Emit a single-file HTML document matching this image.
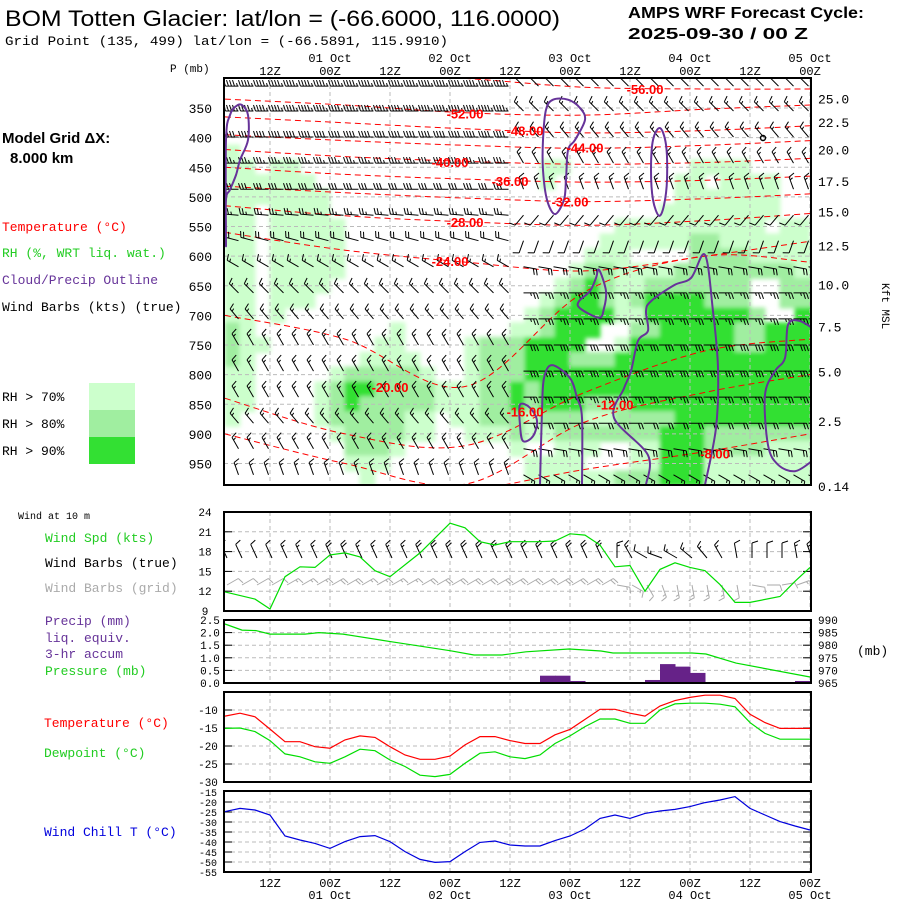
<!DOCTYPE html>
<html><head><meta charset="utf-8"><title>BOM Totten Glacier meteogram</title>
<style>
html,body{margin:0;padding:0;background:#fff;}
svg{display:block;}
text{font-family:"Liberation Mono","DejaVu Sans Mono",monospace;}
.sans{font-family:"Liberation Sans",sans-serif;}
</style></head>
<body>
<svg id="chart" width="900" height="900" viewBox="0 0 900 900" xmlns="http://www.w3.org/2000/svg">
<defs>
<clipPath id="clipMain"><rect x="224" y="78" width="587" height="407"/></clipPath>
<clipPath id="clipWind"><rect x="224" y="512" width="587" height="99"/></clipPath>
<filter id="soft" x="-5%" y="-5%" width="110%" height="110%"><feGaussianBlur stdDeviation="2.2"/></filter>
</defs>
<text class="sans" x="5" y="26" font-size="22" textLength="555" lengthAdjust="spacingAndGlyphs">BOM Totten Glacier:  lat/lon = (-66.6000, 116.0000)</text>
<text x="5" y="45" font-size="13" textLength="443" lengthAdjust="spacingAndGlyphs">Grid Point (135, 499) lat/lon = (-66.5891, 115.9910)</text>
<text class="sans" x="628" y="18" font-size="16" font-weight="bold" textLength="236" lengthAdjust="spacingAndGlyphs">AMPS WRF Forecast Cycle:</text>
<text class="sans" x="628" y="39" font-size="16" font-weight="bold" textLength="180" lengthAdjust="spacingAndGlyphs">2025-09-30 / 00  Z</text>

<text class="sans" x="2" y="143" font-size="15" font-weight="bold">Model Grid ΔX:</text>
<text class="sans" x="10" y="163" font-size="15" font-weight="bold">8.000 km</text>
<text x="2" y="231" font-size="13" fill="#ff0000">Temperature (°C)</text>
<text x="2" y="257" font-size="13" fill="#22cc22">RH (%, WRT liq. wat.)</text>
<text x="2" y="284" font-size="13" fill="#663399">Cloud/Precip Outline</text>
<text x="2" y="311" font-size="13" fill="#000">Wind Barbs (kts) (true)</text>
<text x="2" y="401" font-size="13">RH &gt; 70%</text>
<text x="2" y="428" font-size="13">RH &gt; 80%</text>
<text x="2" y="455" font-size="13">RH &gt; 90%</text>
<rect x="89" y="383" width="46" height="27" fill="#ccffcc"/>
<rect x="89" y="410" width="46" height="27" fill="#a0eea0"/>
<rect x="89" y="437" width="46" height="27" fill="#33e033"/>

<text x="18" y="519" font-size="10">Wind at 10 m</text>
<text x="45" y="542" font-size="13" fill="#22cc22">Wind Spd (kts)</text>
<text x="45" y="567" font-size="13" fill="#000">Wind Barbs (true)</text>
<text x="45" y="592" font-size="13" fill="#aaaaaa">Wind Barbs (grid)</text>
<text x="45" y="625" font-size="13" fill="#663399">Precip (mm)</text>
<text x="45" y="642" font-size="13" fill="#663399">liq. equiv.</text>
<text x="45" y="658" font-size="13" fill="#663399">3-hr accum</text>
<text x="45" y="675" font-size="13" fill="#22cc22">Pressure (mb)</text>
<text x="857" y="655" font-size="13">(mb)</text>
<text x="44" y="727" font-size="13" fill="#ff0000">Temperature (°C)</text>
<text x="44" y="757" font-size="13" fill="#22cc22">Dewpoint (°C)</text>
<text x="44" y="836" font-size="13" fill="#0000dd">Wind Chill T (°C)</text>
<text x="170" y="72" font-size="11">P (mb)</text>
<text x="0" y="0" font-size="11" transform="translate(882,283) rotate(90)">Kft MSL</text>
<g id="layers"></g>
</svg>
<script>
// ---------- DATA ----------
const tickHours = [9,21,33,45,57,69,81,93,105,117];
const tickLabels = ["12Z","00Z","12Z","00Z","12Z","00Z","12Z","00Z","12Z","00Z"];
const dateHours = [21,45,69,93,117];
const dateLabels = ["01 Oct","02 Oct","03 Oct","04 Oct","05 Oct"];
const presLevels = [350,400,450,500,550,600,650,700,750,800,850,900,950];
const kftLabels = ["25.0","22.5","20.0","17.5","15.0","12.5","10.0","7.5","5.0","2.5","0.14"];
const kftPres = [334,374,420,473,525,582,648,719,795,878,988];

// RH classes (0:<70,1:>70,2:>80,3:>90) per 25mb row (300..975), 40 cols of 3h
const rhRows = [
"0000000000000000000000000000000000000000",
"0000000000000000000000000000000000000000",
"0000000000000000000000000000000000000000",
"0000000000000000000000000000000000000000",
"0000000000000000000000000000000000000000",
"1000000000000000000000000000000000000000",
"1101100000000000000001100000000111100000",
"1111110000000000000001000000001101111000",
"1111111000000000000000000000001111111000",
"1101111000000000000000000000011111111000",
"1101111100000000000000000011111111110110",
"1101111100000000000000000111111221111110",
"1101111100000000000000001110000222211111",
"1101111100000000000000012211112222222211",
"1101111000000000000000123211222222200222",
"1101110000000000000001233212333322200222",
"1101000000000000000012333311333333320033",
"2100000000010000000112333002233333223333",
"2110000000110000122233330013333333223333",
"2100000001111000122233322233333333333333",
"1100000122222100122233333333333333333333",
"1100001233222211122323333333333333333333",
"1100001232222211122323332223333333333333",
"1000001222221101122212221122223333333333",
"0000000122221100111211222222233322222222",
"0000000022210000000100111001133322221111",
"0000000011100000000011110001133311111111",
"0000000001000000000011111122233311111111"
];
const rhClassValue = [50,75,85,95];

// wind barbs aloft: rows at these pressures; west (h<57) and east (h>=57) regimes
const barbPres = [313,355,399,443,487,531,574,618,662,706,750,794,838,882,925,969];
const barbDirW = [270,270,270,270,270,275,285,300,315,320,330,330,330,320,330,340];
const barbSpdW = [45,45,40,35,30,25,20,15,15,15,15,15,15,15,15,15];
const barbDirE = [315,315,320,330,340,220,200,100,90,90,90,90,90,90,100,120];
const barbSpdE = [15,15,15,15,15,10,10,20,25,25,30,30,25,20,20,15];

// isotherms (pressure at isoHours)
const isoHours = [0,24,48,72,96,117];
const isoTemps = [-56,-52,-48,-44,-40,-36,-32,-28,-24,-20,-16,-12,-8];
const isoPres = [
[285,290,300,315,318,318],
[335,345,358,362,352,345],
[365,375,385,392,388,380],
[395,405,413,418,413,405],
[420,432,440,445,442,435],
[450,462,470,475,472,465],
[482,493,502,508,503,495],
[515,532,542,548,540,528],
[560,590,610,625,600,575],
[700,740,820,660,600,610],
[840,900,920,830,760,740],
[900,950,985,880,830,800],
[995,995,995,960,930,900]
];
const isoLabelH = [84,48,60,72,45,57,69,48,45,33,60,78,98];
const isoLabelP = [318,359,388,417,441,473,508,542,608,821,862,850,933];

// cloud/precip outlines [hours],[pressures]
const cloudOutlines = [
 {h:[0.2,0.2,1,2.2,3,4.6,4.6,3.4,2.2,1,0.2],p:[581,505,488,463,438,404,362,345,347,362,404],closed:true},
 {h:[65.6,68.6,71,72,70,68.6,68.2,67.8,66,64.4,63.6,63.6,64.2],p:[336,336,350,370,404,421,471,505,529,505,455,404,353],closed:true},
 {h:[87,88.2,88.4,87.8,86.8,85.6,85.2,85.6],p:[384,412,471,514,532,505,455,404],closed:true},
 {h:[74.8,76.2,75.8,74.8,71,70.8,73,74.2],p:[623,659,688,704,688,676,659,637],closed:true},
 {h:[63,63.4,63.8,65.4,69,70.4,71.4,71.4],p:[986,861,806,784,806,839,873,986],closed:false},
 {h:[84.2,84.6,77.8,79.8,81.2,82.6,84.6,84.2,85.2,89.8,93.2,96,97.6,98.6,98.2,96],p:[986,936,873,823,794,743,726,693,676,649,637,598,693,789,890,986],closed:false},
 {h:[117.4,114,110.6,108.6,108,110,112,112.6,114.8,117.4],p:[946,963,952,919,834,794,772,716,709,721],closed:false},
 {h:[59,61,62.4,61.6,59.6,59],p:[851,856,878,904,912,885],closed:true}
];

// 10 m wind speed (kts)
const windHours = [0,6,9,12,15,18,21,24,27,30,33,39,45,48,51,54,57,63,66,69,72,75,78,81,84,87,90,93,96,99,102,105,111,114,117];
const windSpd = [11.9,10.8,9.3,14.2,15.7,15.6,17.5,17.8,17.2,15.1,14.2,17.8,22.3,21.6,19.5,19.0,19.5,19.5,19.6,20.7,20.5,19.0,15.7,15.9,12.0,15.3,16.3,15.6,15.1,13.0,10.3,10.3,11.2,13.5,15.6];
const barb10Dir = [335,335,335,335,335,335,335,335,335,335,335,335,335,335,335,335,335,335,335,335,335,335,335,335,335,335,0,330,300,290,300,310,320,330,350,0,0,0,350,340];
const gridBarbDir = [60,60,60,60,60,60,60,60,60,60,60,60,60,60,60,60,60,60,60,60,60,60,60,60,60,60,100,120,150,160,170,170,170,170,170,100,90,80,70,60];

// pressure (mb)
const presHours = [0,3.4,6.2,9,16,18.8,23.6,33.2,45,49.8,55.4,60.2,68.8,75.2,77.6,93.4,96.2,102.2,117];
const surfPres = [988.4,986,985.8,984.4,984.4,985,984.4,981.4,977.8,976.1,976.1,977.4,978.5,977.7,976.9,976.9,976.5,972.9,967.4];

// precip 3-hr accum (mm), bar start hours
const precipHours = [63,66,69,81,84,87,90,93,111,114];
const precipMm = [0.29,0.29,0.08,0.04,0.12,0.75,0.65,0.4,0.04,0.08];

// temperature / dewpoint / wind chill, every 3h from 0..117
const tHours = [0,3,6,9,12,15,18,21,24,27,30,33,36,39,42,45,48,51,54,57,60,63,66,69,72,75,78,81,84,87,90,93,96,99,102,105,108,111,114,117];
const tempC = [-11.7,-10.9,-11.9,-15.3,-18.8,-18.8,-20.2,-20.6,-18.3,-17.2,-17.6,-20.2,-22.5,-23.7,-23.7,-22.8,-19.7,-17.4,-17.4,-18.5,-19.3,-19.3,-16.9,-15.4,-12.6,-9.8,-9.8,-10.9,-11.7,-8.9,-7.4,-6.5,-5.9,-5.9,-6.8,-11.2,-13.5,-15.1,-15.1,-15.1];
const dewC = [-15.1,-15.0,-16.0,-18.5,-22.2,-23.0,-24.4,-24.8,-23.0,-20.9,-21.3,-23.9,-25.7,-28.1,-28.5,-27.9,-24.8,-22.0,-21.6,-23.0,-23.5,-22.5,-19.3,-17.2,-14.6,-12.5,-12.5,-13.7,-13.7,-10.0,-8.3,-8.1,-8.1,-8.4,-9.1,-13.5,-16.5,-18.1,-18.1,-18.1];
const chillC = [-24.8,-23.2,-24.0,-26.5,-37.0,-39.0,-40.7,-43.2,-39.8,-37.3,-36.8,-39.8,-44.8,-48.7,-50.2,-49.8,-44.8,-40.2,-39.5,-41.5,-42.0,-42.0,-39.3,-37.0,-33.5,-28.2,-26.5,-28.2,-25.7,-24.5,-23.7,-22.3,-20.3,-19.0,-17.3,-23.2,-26.5,-29.8,-32.0,-34.0];

const windTicks = [24,21,18,15,12,9];
const rainTicks = ["2.5","2.0","1.5","1.0","0.5","0.0"];
const presTicks = [990,985,980,975,970,965];
const tempTicks = [-10,-15,-20,-25,-30];
const chillTicks = [-15,-20,-25,-30,-35,-40,-45,-50,-55];

// ---------- AXES ----------
const L=224, R=811;
const X = h => 225 + 5*h;
const P = p => 108 + (p-350)*0.5925;
const Yw = k => 512 + (24-k)*6.6;
const Ypr = p => 683 - (p-965)*2.52;
const Yrain = mm => 683 - mm*25.2;
const Yt = t => 710 + (-10-t)*3.6;
const Yc = t => 792 + (-15-t)*2.0;

const NS="http://www.w3.org/2000/svg";
const root=document.getElementById('layers');
function el(tag,attrs,parent){const e=document.createElementNS(NS,tag);for(const k in attrs)e.setAttribute(k,attrs[k]);(parent||root).appendChild(e);return e;}
function txt(x,y,s,attrs,parent){const e=el('text',Object.assign({x:x,y:y},attrs||{}),parent);e.textContent=s;return e;}
function grp(attrs){return el('g',attrs||{});}
function poly(xs,ys){return xs.map((x,i)=>(i?'L':'M')+x.toFixed(1)+' '+ys[i].toFixed(1)).join(' ');}
function smooth(pts,closed){
  let d='M'+pts[0][0].toFixed(1)+' '+pts[0][1].toFixed(1);
  const n=pts.length;
  const get=i=>closed?pts[(i+n)%n]:pts[Math.max(0,Math.min(n-1,i))];
  const lim=closed?n:n-1;
  for(let i=0;i<lim;i++){
    const p0=get(i-1),p1=get(i),p2=get(i+1),p3=get(i+2);
    const c1=[p1[0]+(p2[0]-p0[0])/6,p1[1]+(p2[1]-p0[1])/6];
    const c2=[p2[0]-(p3[0]-p1[0])/6,p2[1]-(p3[1]-p1[1])/6];
    d+=' C'+c1[0].toFixed(1)+' '+c1[1].toFixed(1)+' '+c2[0].toFixed(1)+' '+c2[1].toFixed(1)+' '+p2[0].toFixed(1)+' '+p2[1].toFixed(1);
  }
  return d+(closed?' Z':'');
}
function interp(xs,ys,x){if(x<=xs[0])return ys[0];for(let i=1;i<xs.length;i++){if(x<=xs[i]){const f=(x-xs[i-1])/(xs[i]-xs[i-1]);return ys[i-1]+f*(ys[i]-ys[i-1]);}}return ys[ys.length-1];}
function barbPath(x,y,dir,spd,L){
  const a=dir*Math.PI/180, dx=Math.sin(a), dy=-Math.cos(a);
  const px=-dy, py=dx;
  let ex=x+dx*L, ey=y+dy*L;
  let d='M'+x.toFixed(1)+' '+y.toFixed(1)+' L'+ex.toFixed(1)+' '+ey.toFixed(1);
  let s=Math.round(spd/5)*5, pos=0;
  while(s>=50){const bx=ex-dx*pos,by=ey-dy*pos;d+=' M'+bx.toFixed(1)+' '+by.toFixed(1)+' L'+(bx+px*6+dx*1).toFixed(1)+' '+(by+py*6+dy*1).toFixed(1)+' L'+(bx-dx*3).toFixed(1)+' '+(by-dy*3).toFixed(1);pos+=4;s-=50;}
  while(s>=10){const bx=ex-dx*pos,by=ey-dy*pos;d+=' M'+bx.toFixed(1)+' '+by.toFixed(1)+' L'+(bx+px*6+dx*2).toFixed(1)+' '+(by+py*6+dy*2).toFixed(1);pos+=3;s-=10;}
  if(s>=5){if(pos===0)pos=2;const bx=ex-dx*pos,by=ey-dy*pos;d+=' M'+bx.toFixed(1)+' '+by.toFixed(1)+' L'+(bx+px*3+dx*1).toFixed(1)+' '+(by+py*3+dy*1).toFixed(1);}
  return d;
}
function vgrid(g,y1,y2){tickHours.forEach(h=>{const l=el('line',{x1:X(h),x2:X(h),y1:y1,y2:y2,stroke:'#bbbbbb','stroke-dasharray':'4,3','stroke-width':1},g);});}
function hgrid(g,ys){ys.forEach(y=>{const l=el('line',{x1:L,x2:R,y1:y,y2:y,stroke:'#bbbbbb','stroke-dasharray':'4,3','stroke-width':1},g);
  el('line',{x1:L,x2:L+8,y1:y,y2:y,stroke:'#000'},g);el('line',{x1:R-8,x2:R,y1:y,y2:y,stroke:'#000'},g);});}
function frame(y,h,name){const r=el('rect',{x:L,y:y,width:R-L,height:h,fill:'none',stroke:'#000','stroke-width':2});}

// ---------- MAIN PANEL ----------
const gMain=grp({'clip-path':'url(#clipMain)'});


const gRH=el('g',{filter:'url(#soft)'},gMain);


const rhColors=[null,'#ccffcc','#a0eea0','#33e033'];
rhRows.forEach((row,r)=>{
  const pc=300+25*r;
  for(let c=0;c<row.length;c++){
    const v=rhClassValue[+row[c]];
    const cls=v>90?3:v>80?2:v>70?1:0;
    if(!cls)continue;
    const cell=el('rect',{x:X(3*c)-0.5,y:P(pc-12.5)-0.5,width:16,height:P(pc+12.5)-P(pc-12.5)+1,fill:rhColors[cls]},gRH);
    
    
  }
});
vgrid(gMain,78,485);
presLevels.forEach(p=>{const l=el('line',{x1:L,x2:R,y1:P(p),y2:P(p),stroke:'#bbbbbb','stroke-dasharray':'4,3'},gMain);});
// isotherms
isoTemps.forEach((t,i)=>{
  const pts=isoHours.map((h,j)=>[X(h),P(isoPres[i][j])]);
  const iso=el('path',{d:smooth(pts,false),fill:'none',stroke:'#ff0000','stroke-width':1,'stroke-dasharray':'6,4'},gMain);
  
  
});
// wind barbs aloft
const gBarb=el('g',{stroke:'#000','stroke-width':1,fill:'none'},gMain);


barbPres.forEach((p,r)=>{
  for(let c=0;c<40;c++){
    const h=1.5+3*c;
    const east=h>=57;
    const dir=east?barbDirE[r]:barbDirW[r], spd=east?barbSpdE[r]:barbSpdW[r];
    const b=el('path',{d:barbPath(X(h)+6,P(p),dir,spd,13)},gBarb);
    
    
  }
});
// cloud outlines
cloudOutlines.forEach(o=>{
  const pts=o.h.map((h,i)=>[X(h),P(o.p[i])]);
  const c=el('path',{d:smooth(pts,o.closed),fill:'none',stroke:'#663399','stroke-width':2},gMain);
  
  
});
// isotherm labels
isoTemps.forEach((t,i)=>{
  const lb=txt(X(isoLabelH[i]),P(isoLabelP[i])+5,t.toFixed(2),{'font-size':13,'font-weight':'bold',fill:'#ff0000','text-anchor':'middle',class:'sans'},gMain);
  
  
});
el('circle',{cx:763,cy:138,r:2.5,fill:'none',stroke:'#000','stroke-width':1.5},gMain);
frame(78,407,'cross-section-frame');
presLevels.forEach(p=>{const t=txt(212,P(p)+5,String(p),{'font-size':13,'text-anchor':'end'});});
kftLabels.forEach((s,i)=>{const t=txt(818,P(kftPres[i])+5,s,{'font-size':13});});
tickHours.forEach((h,i)=>{
  const t=txt(X(h),75,tickLabels[i],{'font-size':12,'text-anchor':'middle'});
  const b=txt(X(h),887,tickLabels[i],{'font-size':12,'text-anchor':'middle'});
});
dateHours.forEach((h,i)=>{
  const t=txt(X(h),62,dateLabels[i],{'font-size':12,'text-anchor':'middle'});
  const b=txt(X(h),899,dateLabels[i],{'font-size':12,'text-anchor':'middle'});
});

// ---------- WIND PANEL ----------
const gW=grp({'clip-path':'url(#clipWind)'});


vgrid(gW,512,611);
hgrid(gW,windTicks.map(Yw));
const gB10=el('g',{stroke:'#000',fill:'none'},gW);
tHours.forEach((h,i)=>{
  const b=el('path',{d:barbPath(X(h)+2,558,barb10Dir[i],interp(windHours,windSpd,h),15)},gB10);
  
  
});
const gBG=el('g',{stroke:'#aaaaaa',fill:'none'},gW);
tHours.forEach((h,i)=>{
  const b=el('path',{d:barbPath(X(h)+2,585,gridBarbDir[i],interp(windHours,windSpd,h),13)},gBG);
  
  
});
const ws=el('path',{d:poly(windHours.map(X),windSpd.map(Yw)),fill:'none',stroke:'#00dd00','stroke-width':1.2},gW);


frame(512,99,'wind-panel-frame');
windTicks.forEach(k=>{const t=txt(205,Yw(k)+4,String(k),{'font-size':11,'text-anchor':'middle'});});

// ---------- PRECIP / PRESSURE ----------
const gP=grp();


vgrid(gP,620,683);
hgrid(gP,presTicks.slice(1,5).map(Ypr));
precipHours.forEach((h,i)=>{
  const b=el('rect',{x:X(h),y:Yrain(precipMm[i]),width:15.5,height:683-Yrain(precipMm[i]),fill:'#662288'},gP);
  
  
});
const pl=el('path',{d:poly(presHours.map(X),surfPres.map(Ypr)),fill:'none',stroke:'#00dd00','stroke-width':1.2},gP);


frame(620,63,'precip-panel-frame');
rainTicks.forEach((s,i)=>{const t=txt(210,Yrain(2.5-0.5*i)+4,s,{'font-size':11,'text-anchor':'middle'});});
presTicks.forEach(p=>{const t=txt(818,Ypr(p)+4,String(p),{'font-size':11});});

// ---------- TEMPERATURE ----------
const gT=grp();


vgrid(gT,692,782);
hgrid(gT,tempTicks.slice(0,4).map(Yt));
const tl=el('path',{d:poly(tHours.map(X),tempC.map(Yt)),fill:'none',stroke:'#ff0000','stroke-width':1.2},gT);


const dl=el('path',{d:poly(tHours.map(X),dewC.map(Yt)),fill:'none',stroke:'#00dd00','stroke-width':1.2},gT);


frame(692,90,'temperature-panel-frame');
tempTicks.forEach(k=>{const t=txt(208,Yt(k)+4,String(k),{'font-size':11,'text-anchor':'middle'});});

// ---------- WIND CHILL ----------
const gC=grp();


vgrid(gC,791,872);
hgrid(gC,chillTicks.slice(1,8).map(Yc));
const cl=el('path',{d:poly(tHours.map(X),chillC.map(Yc)),fill:'none',stroke:'#0000dd','stroke-width':1.2},gC);


frame(791,81,'wind-chill-panel-frame');
chillTicks.forEach(k=>{const t=txt(208,Yc(k)+4,String(k),{'font-size':10,'text-anchor':'middle'});});
</script>
</body></html>
